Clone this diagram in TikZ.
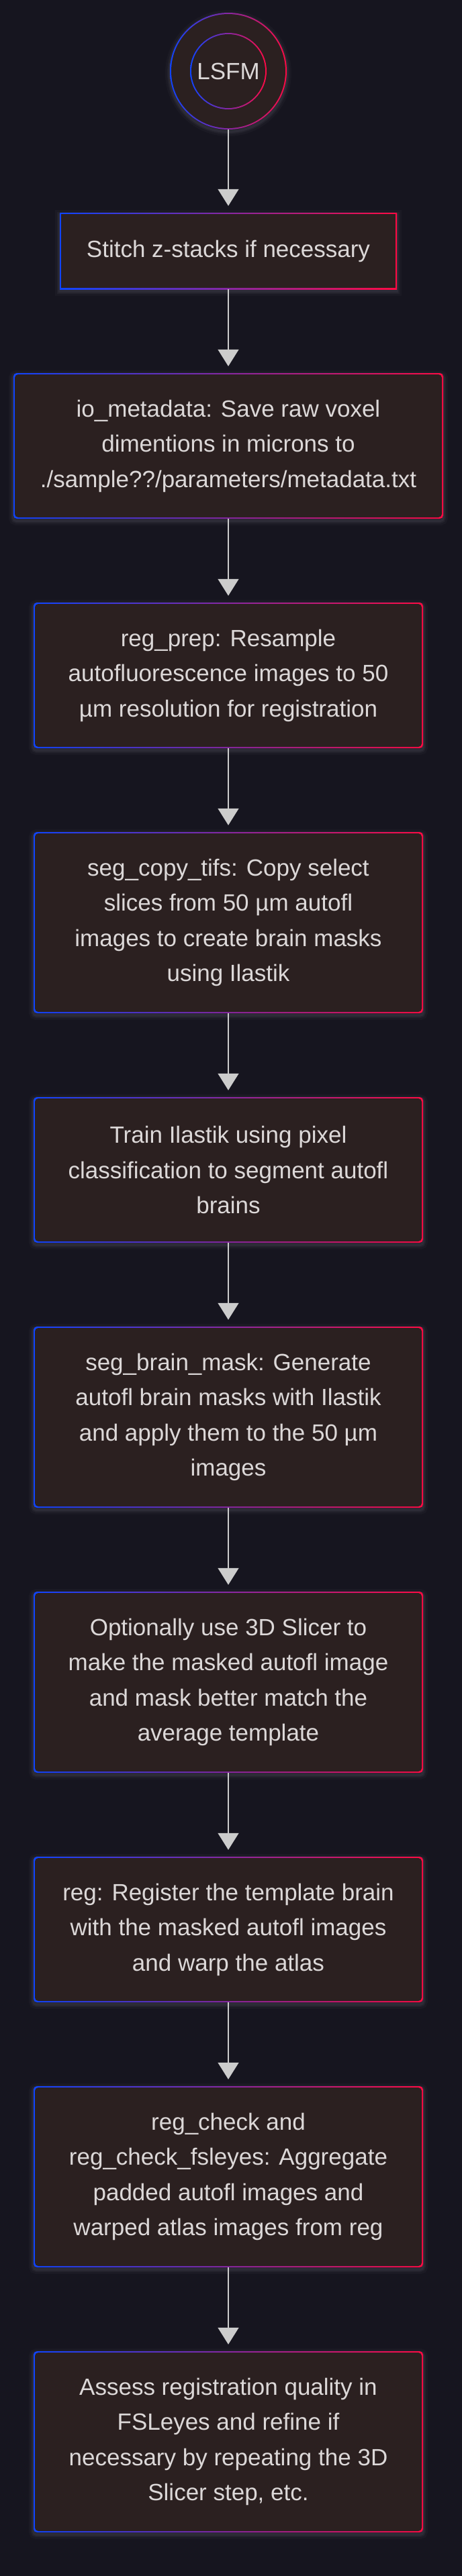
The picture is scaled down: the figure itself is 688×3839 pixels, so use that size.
\documentclass[tikz,border=0pt]{standalone}
\usepackage{fontspec}
\setmainfont{Liberation Sans}
\usetikzlibrary{arrows.meta}
\definecolor{bgc}{HTML}{16151F}
\definecolor{boxfill}{HTML}{2B2020}
\definecolor{cblue}{RGB}{15,68,255}
\definecolor{cred}{RGB}{255,10,68}
\definecolor{txtc}{HTML}{DCD8D8}
\definecolor{arrc}{HTML}{CCCCCC}
\definecolor{glowc}{HTML}{B8B8C8}
\pgfdeclarelayer{back}
\pgfdeclarelayer{mid}
\pgfsetlayers{back,mid,main}
\tikzset{
  gbox/.style={inner sep=0pt, align=center, text=txtc,
    font=\fontsize{35}{52.5}\selectfont, rounded corners=#1,
    path picture={
      \shade[left color=cblue, right color=cred] (path picture bounding box.south west) rectangle (path picture bounding box.north east);
      \fill[boxfill, rounded corners=#1] ([shift={(2pt,2pt)}]path picture bounding box.south west) rectangle ([shift={(-2pt,-2pt)}]path picture bounding box.north east);
    }},
  gcirc/.style={circle, inner sep=0pt, align=center, text=txtc,
    font=\fontsize{35}{52.5}\selectfont, minimum size=#1,
    path picture={
      \shade[left color=cblue, right color=cred] (path picture bounding box.south west) rectangle (path picture bounding box.north east);
      \fill[boxfill] (path picture bounding box.center) circle ({#1/2-2pt});
    }},
  arr/.style={draw=arrc, line width=1.6pt, -{Triangle[width=31pt,length=25pt]}, shorten >=10pt},
  glowa/.style={draw=glowc, draw opacity=0.035, line width=14pt, rounded corners=#1},
  glowb/.style={draw=glowc, draw opacity=0.05, line width=8pt, rounded corners=#1},
  glowd/.style={draw=glowc, draw opacity=0.07, line width=4pt, rounded corners=#1},
}
\begin{document}
\begin{tikzpicture}[x=1pt, y=-1pt]
\begin{pgfonlayer}{back}
\fill[bgc] (0,0) rectangle (688,3839);
\end{pgfonlayer}
\path[use as bounding box] (0,0) rectangle (688,3839);

\node[gcirc=174pt] (lsfmo) at (340,106) {};
\node[gcirc=114pt] (lsfm) at (340,106) {LSFM};

\node[gbox=0pt, minimum width=502pt, minimum height=114pt] (stitch) at (340,374) {Stitch z-stacks if necessary};
\node[gbox=5pt, minimum width=640pt, minimum height=217pt] (io) at (340,664.5) {io\_metadata: Save raw voxel\\dimentions in microns to\\./sample??/parameters/metadata.txt};
\node[gbox=5pt, minimum width=580pt, minimum height=217pt] (prep) at (340,1006.5) {reg\_prep: Resample\\autofluorescence images to 50\\µm resolution for registration};
\node[gbox=5pt, minimum width=580pt, minimum height=270pt] (copy) at (340,1375) {seg\_copy\_tifs: Copy select\\slices from 50 µm autofl\\images to create brain masks\\using Ilastik};
\node[gbox=5pt, minimum width=580pt, minimum height=217pt] (train) at (340,1743.5) {Train Ilastik using pixel\\classification to segment autofl\\brains};
\node[gbox=5pt, minimum width=580pt, minimum height=270pt] (mask) at (340,2112) {seg\_brain\_mask: Generate\\autofl brain masks with Ilastik\\and apply them to the 50 µm\\images};
\node[gbox=5pt, minimum width=580pt, minimum height=270pt] (slicer) at (340,2507) {Optionally use 3D Slicer to\\make the masked autofl image\\and mask better match the\\average template};
\node[gbox=5pt, minimum width=580pt, minimum height=217pt] (reg) at (340,2875.5) {reg: Register the template brain\\with the masked autofl images\\and warp the atlas};
\node[gbox=5pt, minimum width=580pt, minimum height=270pt] (check) at (340,3244) {reg\_check and\\reg\_check\_fsleyes: Aggregate\\padded autofl images and\\warped atlas images from reg};
\node[gbox=5pt, minimum width=580pt, minimum height=270pt] (assess) at (340,3639) {Assess registration quality in\\FSLeyes and refine if\\necessary by repeating the 3D\\Slicer step, etc.};

\begin{pgfonlayer}{mid}
\begin{scope}[transform canvas={yshift=-3pt}]
\foreach \s in {glowa,glowb,glowd}{
  \draw[\s=0pt] (lsfmo.center) circle (87pt);
  \draw[\s=0pt] (stitch.south west) rectangle (stitch.north east);
  \foreach \n in {io,prep,copy,train,mask,slicer,reg,check,assess}{
    \draw[\s=5pt] (\n.south west) rectangle (\n.north east);
  }
}
\end{scope}
\end{pgfonlayer}

\draw[arr] (lsfmo) -- (stitch);
\draw[arr] (stitch) -- (io);
\draw[arr] (io) -- (prep);
\draw[arr] (prep) -- (copy);
\draw[arr] (copy) -- (train);
\draw[arr] (train) -- (mask);
\draw[arr] (mask) -- (slicer);
\draw[arr] (slicer) -- (reg);
\draw[arr] (reg) -- (check);
\draw[arr] (check) -- (assess);
\end{tikzpicture}
\end{document}
